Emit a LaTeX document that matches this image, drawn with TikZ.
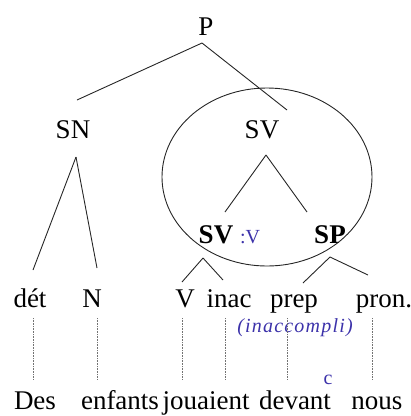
\documentclass[tikz,border=0pt]{standalone}
\usepackage{fontspec}
\setmainfont{Liberation Serif}
\usetikzlibrary{calc}
\definecolor{ink}{RGB}{60,50,170}
\begin{document}
\begin{tikzpicture}[x=1pt,y=-1pt,
  lab/.style={font=\fontsize{27}{30}\selectfont, inner sep=0pt, anchor=base},
  blab/.style={font=\fontsize{27}{30}\selectfont\bfseries, inner sep=0pt, anchor=base},
  hand/.style={font=\fontsize{20}{24}\selectfont\itshape, text=ink, inner sep=0pt},
  branch/.style={line width=0.9pt, black!85},
  dot/.style={densely dotted, line width=0.6pt, black!55}]
\useasboundingbox (0,0) rectangle (411,416);
% nodes
\node[lab] (P) at (206,35) {P};
\node[lab] (SN) at (73,138) {SN};
\node[lab] (SV) at (262,138) {SV};
\node[blab] (SVb) at (216,243) {SV};
\node[hand, font=\fontsize{20}{24}\selectfont, anchor=base] (vcol) at (250,243) {:V};
\node[blab] (SP) at (330,243) {SP};
\node[lab] (det) at (30,307) {dét};
\node[lab] (N) at (92,307) {N};
\node[lab] (V) at (185,307) {V};
\node[lab] (inac) at (229,307) {inac};
\node[lab] (prep) at (294,307) {prep};
\node[lab] (pron) at (384,307) {pron.};
\node[hand, font=\fontsize{20}{24}\selectfont\itshape\addfontfeature{LetterSpace=6}] (inacc) at (295,328) {(inaccompli)};
\node[hand, font=\fontsize{20}{24}\selectfont] (c) at (328,380) {c};
\node[lab] (Des) at (35,409) {Des};
\node[lab] (enfants) at (120,409) {enfants};
\node[lab] (jouaient) at (206,409) {jouaient};
\node[lab] (devant) at (295,409) {devant};
\node[lab] (nous) at (377,409) {nous};
% circle around SV
\draw[branch] (267,177) ellipse (105 and 89);
% branches
\draw[branch] ($(P.base)+(-4,8)$) -- ($(SN.base)+(4,-38)$);
\draw[branch] ($(P.base)+(-4,8)$) -- ($(SV.base)+(25,-28)$);
\draw[branch] ($(SN.base)+(3,19)$) -- ($(det.base)+(3,-37)$);
\draw[branch] ($(SN.base)+(3,19)$) -- ($(N.base)+(5,-39)$);
\draw[branch] ($(SV.base)+(4,17)$) -- ($(SVb.base)+(9,-31)$);
\draw[branch] ($(SV.base)+(4,17)$) -- ($(SP.base)+(-23,-31)$);
\draw[branch] ($(SVb.base)+(-13,15)$) -- ($(V.base)+(-3,-25)$);
\draw[branch] ($(SVb.base)+(-13,15)$) -- ($(inac.base)+(-6,-27)$);
\draw[branch] ($(SP.base)+(0,14)$) -- ($(prep.base)+(9,-24)$);
\draw[branch] ($(SP.base)+(0,14)$) -- ($(pron.base)+(-16,-32)$);
% dotted links
\draw[dot] ($(det.base)+(3,11)$) -- ($(Des.base)+(-2,-29)$);
\draw[dot] ($(N.base)+(5,11)$) -- ($(enfants.base)+(-23,-29)$);
\draw[dot] ($(V.base)+(-3,11)$) -- ($(jouaient.base)+(-24,-29)$);
\draw[dot] ($(inac.base)+(-4,11)$) -- ($(jouaient.base)+(19,-29)$);
\draw[dot] ($(prep.base)+(-7,11)$) -- ($(devant.base)+(-8,-29)$);
\draw[dot] ($(pron.base)+(-12,11)$) -- ($(nous.base)+(-5,-29)$);
\end{tikzpicture}
\end{document}
